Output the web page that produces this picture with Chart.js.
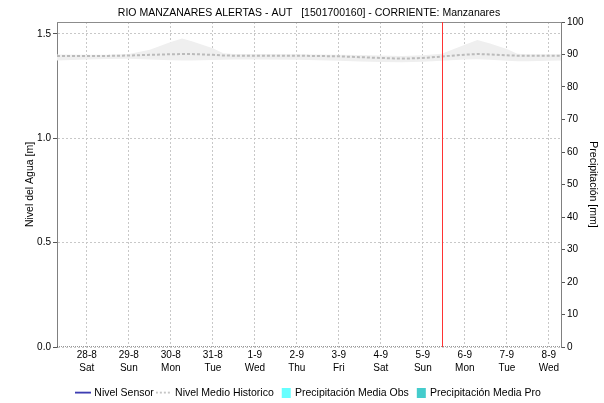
<!DOCTYPE html>
<html>
<head>
<meta charset="utf-8">
<script src="https://cdn.jsdelivr.net/npm/chart.js"></script>
<style>
  body { margin: 0; background: #fff; }
  canvas { display: block; }
</style>
</head>
<body>
<canvas id="myChart" width="604" height="403"></canvas>
<script>
// x values are days counted from 28-8 (00:00 = 0)
var dayDates = ['28-8', '29-8', '30-8', '31-8', '1-9', '2-9', '3-9', '4-9', '5-9', '6-9', '7-9', '8-9'];
var dayNames = ['Sat', 'Sun', 'Mon', 'Tue', 'Wed', 'Thu', 'Fri', 'Sat', 'Sun', 'Mon', 'Tue', 'Wed'];
var xMin = -0.71;
var xMax = 11.29;
var nowDay = 8.45;

var histDays = [-0.71, 0, 0.5, 1, 1.5, 2, 2.27, 2.5, 3, 3.25, 3.5, 4, 5, 6, 6.5, 7, 7.5, 8, 8.45, 9, 9.3, 9.6, 10, 10.25, 10.5, 11, 11.29];
var histMax = [1.402, 1.400, 1.401, 1.404, 1.425, 1.462, 1.479, 1.465, 1.432, 1.408, 1.404, 1.404, 1.403, 1.401, 1.399, 1.397, 1.395, 1.398, 1.405, 1.448, 1.471, 1.455, 1.428, 1.405, 1.403, 1.403, 1.403];
var histMin = [1.373, 1.378, 1.380, 1.381, 1.378, 1.374, 1.373, 1.373, 1.375, 1.377, 1.378, 1.378, 1.377, 1.372, 1.368, 1.366, 1.365, 1.367, 1.372, 1.378, 1.379, 1.376, 1.372, 1.369, 1.370, 1.372, 1.373];
var histMedian = [1.395, 1.394, 1.395, 1.397, 1.400, 1.403, 1.404, 1.404, 1.400, 1.397, 1.396, 1.396, 1.396, 1.393, 1.389, 1.385, 1.382, 1.385, 1.392, 1.401, 1.404, 1.402, 1.398, 1.396, 1.396, 1.396, 1.396];

var sensorLevel = [];
var precipObs = [0, 0, 0, 0, 0, 0, 0, 0, 0, 0, 0, 0];
var precipPro = [0, 0, 0, 0, 0, 0, 0, 0, 0, 0, 0, 0];

var levelMax = 1.5575;
var precipMaxAxis = 100;

function points(xs, ys) {
	return ys.map(function(v, i) { return {x: xs[i], y: v}; });
}

function dayPoints(ys) {
	return ys.map(function(v, i) { return {x: i, y: v}; });
}

// small canvases used as legend symbols
function lineIcon(color, dash) {
	var c = document.createElement('canvas');
	c.width = 16; c.height = 3;
	var g = c.getContext('2d');
	g.strokeStyle = color;
	g.lineWidth = 1.5;
	g.setLineDash(dash || []);
	g.beginPath(); g.moveTo(0, 1.5); g.lineTo(16, 1.5); g.stroke();
	return c;
}

function boxIcon(color) {
	var c = document.createElement('canvas');
	c.width = 16; c.height = 10;
	var g = c.getContext('2d');
	g.fillStyle = color;
	g.fillRect(6, 0, 9, 10);
	return c;
}

var legendIcons = {
	0: lineIcon('#1010a0'),
	1: lineIcon('#b8b8b8', [2, 2]),
	4: boxIcon('#66ffff'),
	5: boxIcon('#44cccc')
};

var framePlugin = {
	id: 'frame',
	afterDatasetsDraw: function(chart) {
		var ctx = chart.ctx;
		var a = chart.chartArea;
		ctx.save();
		ctx.lineWidth = 1;
		ctx.strokeStyle = '#8c8c8c';
		ctx.beginPath();
		ctx.moveTo(a.left, Math.round(a.top) + 0.5);
		ctx.lineTo(a.right, Math.round(a.top) + 0.5);
		ctx.stroke();
		// current time marker
		var x = Math.round(chart.scales.x.getPixelForValue(nowDay)) + 0.5;
		ctx.strokeStyle = '#ff3333';
		ctx.beginPath();
		ctx.moveTo(x, a.top);
		ctx.lineTo(x, a.bottom);
		ctx.stroke();
		ctx.restore();
	}
};

Chart.defaults.font.family = "'Liberation Sans', Arial, sans-serif";
Chart.defaults.font.size = 10;
Chart.defaults.color = '#000';

var ctx = document.getElementById('myChart').getContext('2d');
var chart = new Chart(ctx, {
	type: 'line',
	data: {
		datasets: [{
			label: 'Nivel Sensor',
			data: sensorLevel,
			borderColor: '#1010a0',
			borderWidth: 1.5,
			pointRadius: 0,
			order: 0
		}, {
			label: 'Nivel Medio Historico',
			data: points(histDays, histMedian),
			borderColor: '#bbbbbb',
			borderWidth: 2,
			borderDash: [3, 2],
			pointRadius: 0,
			order: 1
		}, {
			label: '',
			data: points(histDays, histMax),
			borderWidth: 0,
			borderColor: 'rgba(0,0,0,0)',
			backgroundColor: '#efefef',
			pointRadius: 0,
			fill: '+1',
			order: 5
		}, {
			label: '',
			data: points(histDays, histMin),
			borderWidth: 0,
			borderColor: 'rgba(0,0,0,0)',
			pointRadius: 0,
			fill: false,
			order: 5
		}, {
			type: 'bar',
			label: 'Precipitación Media Obs',
			data: dayPoints(precipObs),
			yAxisID: 'y2',
			backgroundColor: '#66ffff',
			order: 3
		}, {
			type: 'bar',
			label: 'Precipitación Media Pro',
			data: dayPoints(precipPro),
			yAxisID: 'y2',
			backgroundColor: '#44cccc',
			order: 3
		}, {
			label: '',
			data: [{x: xMin, y: 0}, {x: xMax, y: 0}],
			borderColor: '#333',
			borderWidth: 1,
			borderDash: [1, 1],
			pointRadius: 0,
			order: 0
		}]
	},
	options: {
		responsive: false,
		animation: false,
		devicePixelRatio: 1,
		layout: {padding: {bottom: -5}},
		plugins: {
			title: {
				display: true,
				fullSize: false,
				text: 'RIO MANZANARES ALERTAS - AUT   [1501700160] - CORRIENTE: Manzanares',
				color: '#000',
				font: {size: 10.5, weight: 'normal', lineHeight: 1.2},
				padding: {top: 7, bottom: 2.4}
			},
			legend: {
				position: 'bottom',
				fullSize: false,
				labels: {
					usePointStyle: true,
					pointStyleWidth: 12,
					boxHeight: 10,
					padding: 4,
					color: '#000',
					font: {size: 10.5},
					generateLabels: function(chart) {
						var items = Chart.defaults.plugins.legend.labels.generateLabels(chart);
						return items.filter(function(it) { return it.text; }).map(function(it) {
							it.pointStyle = legendIcons[it.datasetIndex];
							return it;
						});
					}
				}
			},
			tooltip: {enabled: false}
		},
		scales: {
			x: {
				type: 'linear',
				min: xMin,
				max: xMax,
				offset: false,
				afterFit: function(scale) { scale.height = 36.5; },
				afterBuildTicks: function(scale) {
					scale.ticks = dayDates.map(function(d, i) { return {value: i}; });
				},
				grid: {
					offset: false,
					color: '#c8c8c8',
					drawTicks: false
				},
				border: {display: false, dash: [2, 2]},
				ticks: {
					autoSkip: false,
					maxRotation: 0,
					padding: 1,
					font: {size: 10, lineHeight: 1.35},
					callback: function(value) {
						var i = Math.round(value);
						return [dayDates[i], dayNames[i]];
					}
				}
			},
			y: {
				position: 'left',
				min: 0,
				max: levelMax,
				afterFit: function(scale) { scale.width = 57; },
				title: {
					display: true,
					text: 'Nivel del Agua [m]',
					color: '#000',
					font: {size: 10.5},
					padding: {top: 24, bottom: 0}
				},
				grid: {
					color: '#c8c8c8',
					tickColor: '#555',
					tickLength: 4,
					tickBorderDash: []
				},
				border: {color: '#808080', dash: [2, 2]},
				ticks: {
					stepSize: 0.5,
					includeBounds: false,
					padding: 2,
					callback: function(value) { return value.toFixed(1); }
				}
			},
			y2: {
				position: 'right',
				min: 0,
				max: precipMaxAxis,
				afterFit: function(scale) { scale.width = 43; },
				title: {
					display: true,
					text: 'Precipitación [mm]',
					color: '#000',
					font: {size: 10.5},
					padding: {top: 5, bottom: 0}
				},
				grid: {
					drawOnChartArea: false,
					tickColor: '#555',
					tickLength: 4
				},
				border: {color: '#808080'},
				ticks: {
					stepSize: 10,
					padding: 2
				}
			}
		}
	},
	plugins: [framePlugin]
});
</script>
</body>
</html>
